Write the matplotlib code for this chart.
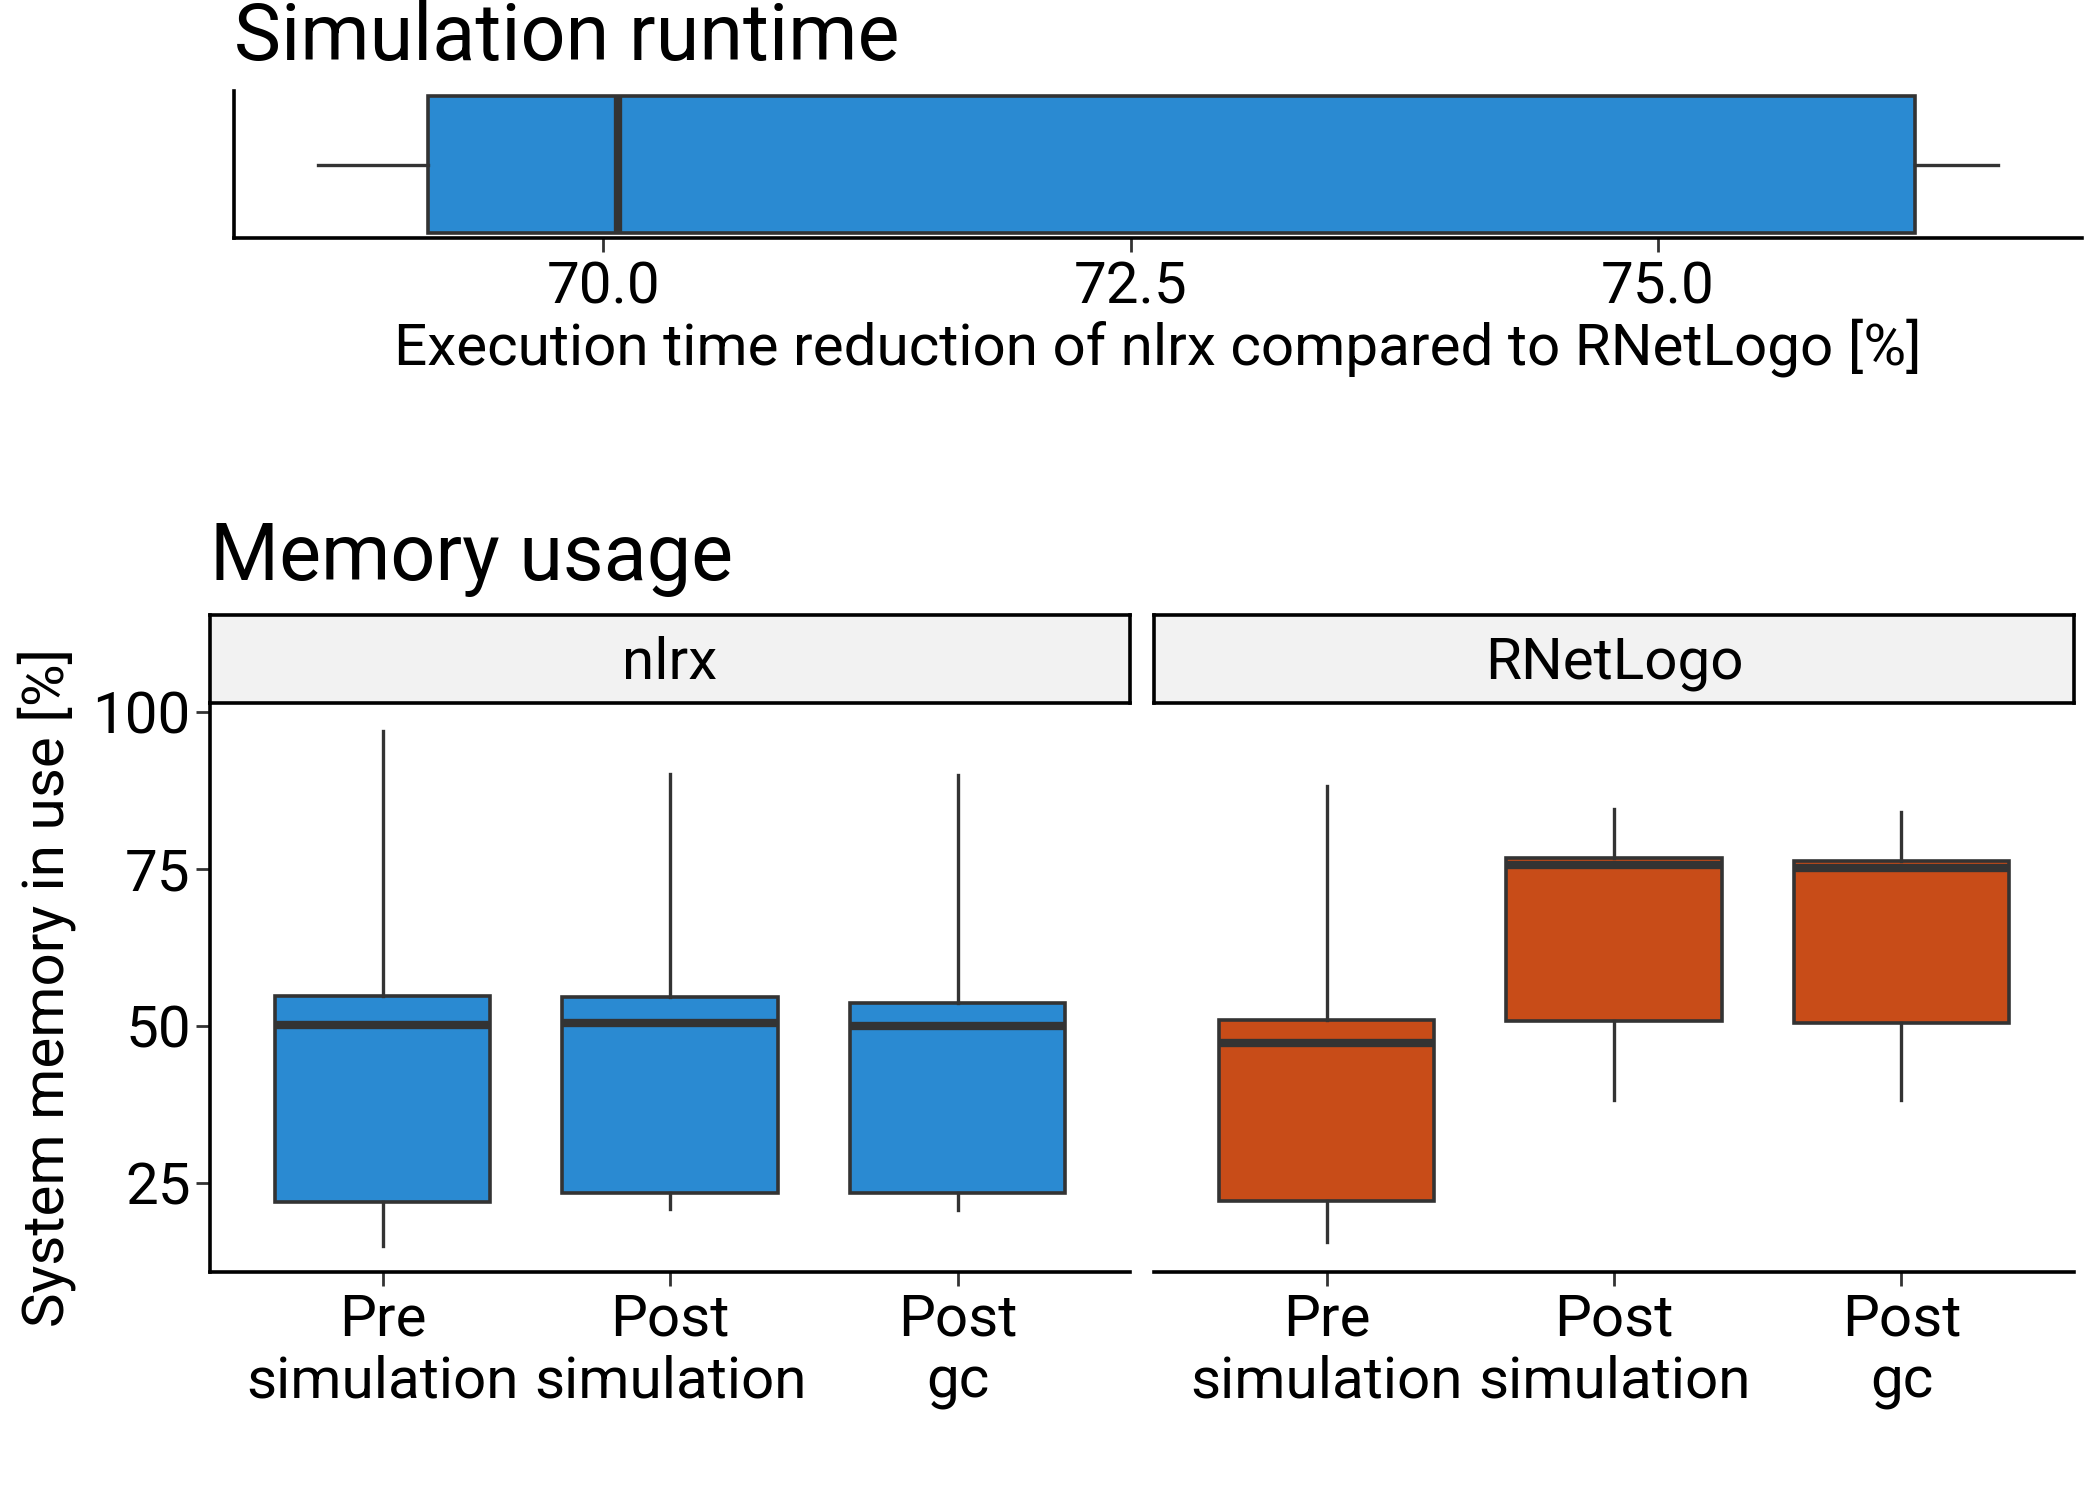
import matplotlib
matplotlib.use("Agg")
import matplotlib.pyplot as plt

plt.rcParams['font.family'] = ['Roboto', 'DejaVu Sans']

# ---- data ----
runtime_stats = dict(whislo=68.65, q1=69.17, med=70.07, q3=76.22, whishi=76.61)

categories = ["Pre\nsimulation", "Post\nsimulation", "Post\ngc"]
facets = ["nlrx", "RNetLogo"]
nlrx_whislo = [15.0, 21.0, 20.8]
nlrx_q1 = [22.0, 23.5, 23.5]
nlrx_med = [50.2, 50.6, 50.0]
nlrx_q3 = [54.9, 54.7, 53.8]
nlrx_whishi = [97.0, 90.2, 90.0]
rnl_whislo = [15.6, 38.3, 38.3]
rnl_q1 = [22.2, 50.9, 50.6]
rnl_med = [47.3, 75.7, 75.3]
rnl_q3 = [51.1, 76.8, 76.4]
rnl_whishi = [88.3, 84.7, 84.2]

runtime_ticks = [70.0, 72.5, 75.0]
mem_ticks = [25, 50, 75, 100]

BLUE = "#2A8AD2"
ORANGE = "#C84C18"
EDGE = "#333333"
FS = 42
TFS = 57

fig = plt.figure(figsize=(21, 15), dpi=100)

def style_box(ax, stats, positions, color, widths, horizontal=False):
    kw = dict(positions=positions, widths=widths, patch_artist=True,
              showfliers=False, showcaps=False,
              boxprops=dict(facecolor=color, edgecolor=EDGE, linewidth=2.6),
              whiskerprops=dict(color=EDGE, linewidth=2.4),
              medianprops=dict(color=EDGE, linewidth=6, solid_capstyle='butt'))
    if horizontal:
        try:
            ax.bxp(stats, orientation='horizontal', **kw)
        except TypeError:
            ax.bxp(stats, vert=False, **kw)
    else:
        ax.bxp(stats, **kw)

# ---- top panel ----
ax1 = fig.add_axes([0.1114, 0.8411, 0.880, 0.0983])
style_box(ax1, [dict(runtime_stats, fliers=[])], [0], BLUE, 0.93, horizontal=True)
ax1.set_ylim(-0.5, 0.5)
ax1.set_xlim(68.25, 77.01)
ax1.set_xticks(runtime_ticks)
ax1.set_xticklabels([f"{t:.1f}" for t in runtime_ticks])
ax1.set_yticks([])
for s in ['top', 'right']:
    ax1.spines[s].set_visible(False)
for s in ['left', 'bottom']:
    ax1.spines[s].set_linewidth(2.6)
    ax1.spines[s].set_color('black')
ax1.tick_params(axis='x', length=10, width=2, color=EDGE, labelsize=FS, pad=6)
ax1.set_xlabel("Execution time reduction of nlrx compared to RNetLogo [%]", fontsize=FS, labelpad=2)
fig.text(0.1114, 0.960, "Simulation runtime", fontsize=TFS, ha='left', va='baseline')

# ---- bottom panels ----
fig.text(0.1001, 0.6133, "Memory usage", fontsize=TFS, ha='left', va='baseline')
fig.text(0.0224, 0.3417, "System memory in use [%]", fontsize=FS, rotation=90,
         ha='center', va='center')
panel_specs = [
    (0.1001, BLUE, nlrx_whislo, nlrx_q1, nlrx_med, nlrx_q3, nlrx_whishi),
    (0.5496, ORANGE, rnl_whislo, rnl_q1, rnl_med, rnl_q3, rnl_whishi),
]
pw = 0.4380
for i, (left, color, lo, q1, md, q3, hi) in enumerate(panel_specs):
    ax = fig.add_axes([left, 0.152, pw, 0.3793])
    stats = [dict(whislo=lo[k], q1=q1[k], med=md[k], q3=q3[k], whishi=hi[k], fliers=[])
             for k in range(len(categories))]
    style_box(ax, stats, [1, 2, 3], color, 0.75)
    ax.set_xlim(0.4, 3.6)
    ax.set_ylim(10.9, 101.5)
    ax.set_xticks([1, 2, 3])
    ax.set_xticklabels(categories, linespacing=1.15)
    ax.set_yticks(mem_ticks)
    for s in ['top', 'right']:
        ax.spines[s].set_visible(False)
    ax.spines['bottom'].set_linewidth(2.6)
    ax.spines['bottom'].set_color('black')
    ax.tick_params(axis='x', length=10, width=2, color=EDGE, labelsize=FS, pad=5)
    if i == 0:
        ax.spines['left'].set_linewidth(2.6)
        ax.spines['left'].set_color('black')
        ax.tick_params(axis='y', length=10, width=2, color=EDGE, labelsize=FS, pad=4)
    else:
        ax.spines['left'].set_visible(False)
        ax.tick_params(axis='y', length=0, labelleft=False)
    # strip
    sax = fig.add_axes([left, 0.5313, pw, 0.0589])
    sax.set_xticks([]); sax.set_yticks([])
    sax.set_facecolor("#F2F2F2")
    for s in sax.spines.values():
        s.set_linewidth(2.6)
        s.set_color('black')
    sax.text(0.5, 0.45, facets[i], transform=sax.transAxes, ha='center', va='center', fontsize=FS)

fig.savefig("out.png", dpi=100)
